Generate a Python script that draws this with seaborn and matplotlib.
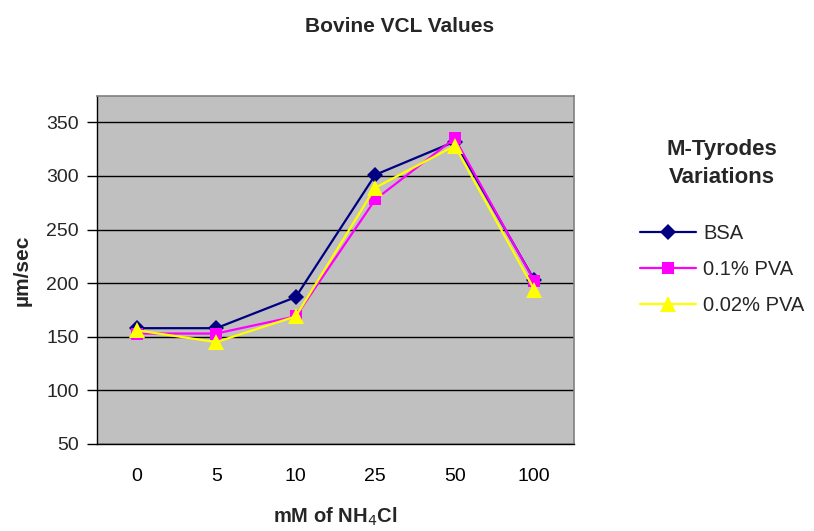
import matplotlib
matplotlib.use("Agg")
import matplotlib.pyplot as plt
import seaborn as sns
import pandas as pd
from matplotlib.lines import Line2D
from matplotlib.ticker import FixedLocator

categories = ["0", "5", "10", "25", "50", "100"]
bsa = [158, 158, 187, 301, 332, 203]
pva_01 = [153, 153, 169, 278, 335, 202]
pva_002 = [156, 145, 169, 289, 328, 194]
series_names = ["BSA", "0.1% PVA", "0.02% PVA"]

df = pd.DataFrame({
    "conc": categories * 3,
    "value": bsa + pva_01 + pva_002,
    "series": [series_names[0]] * 6 + [series_names[1]] * 6 + [series_names[2]] * 6,
})

sns.set_style("white")
plt.rcParams["font.family"] = ["Liberation Sans", "DejaVu Sans"]

W, H = 814, 531
fig = plt.figure(figsize=(8.14, 5.31), dpi=100)
ax = fig.add_axes([97 / W, 87 / H, 477 / W, 348 / H])
ax.set_facecolor("#C0C0C0")

colors = {"BSA": "#000080", "0.1% PVA": "#FF00FF", "0.02% PVA": "#FFFF00"}
markers = {"BSA": "D", "0.1% PVA": "s", "0.02% PVA": "^"}
sizes = {"BSA": 8, "0.1% PVA": 8.5, "0.02% PVA": 11}

for name in series_names:
    sub = df[df["series"] == name]
    sns.lineplot(data=sub, x="conc", y="value", color=colors[name], marker=markers[name],
                 markersize=sizes[name], markeredgewidth=0, linewidth=1.6, ax=ax,
                 legend=False, sort=False)

ax.set_xlim(-0.5, 5.5)
ax.set_ylim(50, 374.5)
ax.yaxis.set_major_locator(FixedLocator([50, 100, 150, 200, 250, 300, 350]))
ax.grid(axis="y", color="black", linewidth=1)
ax.set_axisbelow(True)
ax.xaxis.set_minor_locator(FixedLocator([i - 0.5 for i in range(7)]))
ax.tick_params(axis="x", which="major", length=0, labelsize=14, pad=17, colors="black")
ax.tick_params(axis="x", which="minor", length=6, width=1, direction="out", color="black")
ax.tick_params(axis="y", which="major", length=7, width=1, direction="out", labelsize=14,
               pad=6, left=True, color="black")

for side in ["top", "right"]:
    ax.spines[side].set_color("#808080")
    ax.spines[side].set_linewidth(1.2)
for side in ["left", "bottom"]:
    ax.spines[side].set_color("black")
    ax.spines[side].set_linewidth(1)

ax.set_xlabel("mM of NH$_4$Cl", fontsize=14.5, fontweight="bold", va="center")
ax.xaxis.set_label_coords(0.5, -(517 - 444) / 348)
ax.set_ylabel("µm/sec", fontsize=15, fontweight="bold", va="center", ha="center")
ax.yaxis.set_label_coords(-(97 - 22) / 477, 0.5)
fig.text(400 / W, 1 - 26 / H, "Bovine VCL Values", ha="center", va="center",
         fontsize=15, fontweight="bold")

handles = [Line2D([0], [0], color=colors[n], marker=markers[n], markersize=sizes[n],
                  markeredgewidth=0, linewidth=1.6) for n in series_names]
leg = ax.legend(handles, series_names, title="M-Tyrodes\nVariations", loc="upper center",
                bbox_to_anchor=(722 / W, 1 - 121 / H), bbox_transform=fig.transFigure,
                frameon=False, fontsize=14.5,
                title_fontproperties={"weight": "bold", "size": 16},
                handlelength=2.8, labelspacing=0.85, handletextpad=0.35)
leg._legend_box.align = "center"
leg._legend_box.sep = 26
leg.get_title().set_multialignment("center")
leg.get_title().set_linespacing(1.4)

fig.savefig("out.png", dpi=100, facecolor="white")
